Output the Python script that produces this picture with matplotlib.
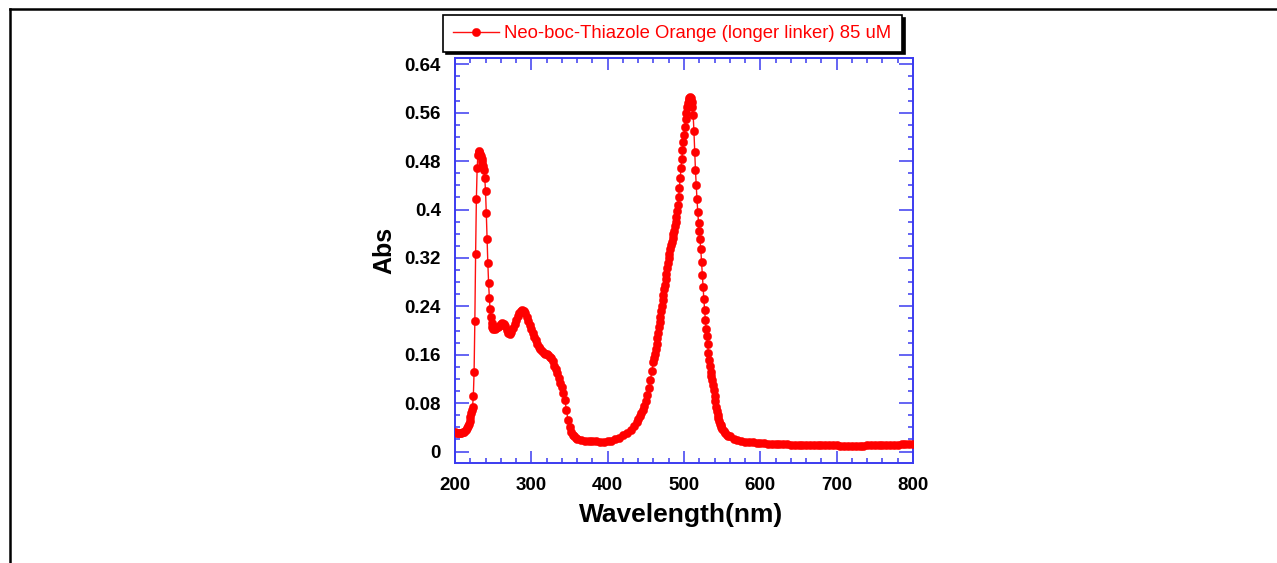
import matplotlib
matplotlib.use("Agg")
import matplotlib.pyplot as plt
from matplotlib.lines import Line2D
from matplotlib.ticker import MultipleLocator, FuncFormatter
import numpy as np

# ---------------- data ----------------
wl_uv = [200, 202, 204, 206, 208, 210, 212, 214, 216, 217, 218, 219, 220, 221, 222, 223,
         224, 225, 226, 227, 228, 229, 230, 231, 232, 233, 234, 235, 236, 237, 238, 239,
         240, 241, 242, 243, 244, 245, 246, 247, 248, 249, 250]
abs_uv = [0.033, 0.031, 0.030, 0.030, 0.031, 0.032, 0.033, 0.035, 0.039, 0.042, 0.046, 0.051,
          0.057, 0.063, 0.069, 0.074, 0.091, 0.131, 0.216, 0.326, 0.417, 0.468, 0.490, 0.496,
          0.495, 0.492, 0.488, 0.484, 0.479, 0.472, 0.465, 0.452, 0.430, 0.394, 0.352, 0.312,
          0.279, 0.254, 0.235, 0.222, 0.212, 0.206, 0.203]

wl_mid = [252, 254, 256, 258, 260, 262, 264, 266, 268, 270, 272, 274, 276, 278, 280, 282,
          284, 286, 288, 290, 292, 294, 296, 298, 300, 302, 304, 306, 308, 310, 312, 314,
          316, 318, 320, 322, 324, 326, 328, 330, 332, 334, 336, 338, 340, 342, 344, 346,
          348, 350, 352, 354, 356, 358, 360]
abs_mid = [0.203, 0.204, 0.206, 0.208, 0.211, 0.212, 0.211, 0.207, 0.201, 0.196, 0.195, 0.198,
           0.204, 0.211, 0.218, 0.224, 0.229, 0.232, 0.234, 0.233, 0.229, 0.223, 0.216, 0.209,
           0.202, 0.196, 0.190, 0.184, 0.178, 0.173, 0.169, 0.166, 0.163, 0.162, 0.161, 0.159,
           0.157, 0.154, 0.149, 0.142, 0.136, 0.129, 0.121, 0.114, 0.106, 0.096, 0.085, 0.068,
           0.052, 0.041, 0.033, 0.028, 0.025, 0.023, 0.021]

wl_valley = [365, 370, 375, 380, 385, 390, 395, 400, 405, 410, 415, 420, 425, 430, 434, 438,
             440, 442, 444, 446, 448, 450, 452, 454, 456, 458]
abs_valley = [0.019, 0.018, 0.018, 0.017, 0.017, 0.0165, 0.0165, 0.017, 0.018, 0.020, 0.023,
              0.027, 0.031, 0.036, 0.042, 0.049, 0.053, 0.058, 0.063, 0.069, 0.076, 0.084,
              0.094, 0.105, 0.118, 0.133]

wl_vis = list(range(460, 551))
abs_vis = [0.148, 0.155, 0.162, 0.170, 0.178, 0.187, 0.196, 0.205, 0.214, 0.223,
           0.232, 0.241, 0.250, 0.259, 0.268, 0.276, 0.285, 0.294, 0.303, 0.312,
           0.320, 0.327, 0.334, 0.341, 0.347, 0.353, 0.359, 0.365, 0.372, 0.380,
           0.388, 0.397, 0.408, 0.421, 0.436, 0.452, 0.468, 0.483, 0.498, 0.511,
           0.523, 0.536, 0.549, 0.560, 0.569, 0.576, 0.581, 0.585, 0.586, 0.584,
           0.578, 0.569, 0.556, 0.530, 0.495, 0.465, 0.440, 0.417, 0.396, 0.378,
           0.364, 0.351, 0.334, 0.313, 0.292, 0.272, 0.252, 0.234, 0.217, 0.203,
           0.191, 0.177, 0.163, 0.151, 0.141, 0.132, 0.125, 0.118, 0.110, 0.101,
           0.092, 0.083, 0.074, 0.067, 0.060, 0.055, 0.050, 0.046, 0.043, 0.040,
           0.037]

wl_tail = [552, 554, 556, 558, 560, 565, 570, 575, 580, 585, 590, 595, 600, 605, 610, 615,
           620, 625, 630, 635, 640, 645, 650, 655, 660, 665, 670, 675, 680, 685, 690, 695,
           700, 705, 710, 715, 720, 725, 730, 735, 740, 745, 750, 755, 760, 765, 770, 775,
           780, 785, 790, 795, 800]
abs_tail = [0.034, 0.031, 0.028, 0.026, 0.025, 0.021, 0.019, 0.0175, 0.0165, 0.0158, 0.0150,
            0.0145, 0.0140, 0.0135, 0.0130, 0.0128, 0.0125, 0.0122, 0.0120, 0.0118, 0.0115,
            0.0113, 0.0111, 0.0110, 0.0109, 0.0107, 0.0106, 0.0105, 0.0104, 0.0103, 0.0102,
            0.0101, 0.0100, 0.0099, 0.0098, 0.0097, 0.0096, 0.0097, 0.0098, 0.0099, 0.0101,
            0.0103, 0.0105, 0.0107, 0.0109, 0.0111, 0.0112, 0.0114, 0.0115, 0.0116, 0.0117,
            0.0118, 0.0118]

series_label = "Neo-boc-Thiazole Orange (longer linker) 85 uM"
x_label = "Wavelength(nm)"
y_label = "Abs"
x_ticks = [200, 300, 400, 500, 600, 700, 800]
y_ticks = [0, 0.08, 0.16, 0.24, 0.32, 0.4, 0.48, 0.56, 0.64]

wavelength = wl_uv + wl_mid + wl_valley + wl_vis + wl_tail
absorbance = abs_uv + abs_mid + abs_valley + abs_vis + abs_tail

# ---------------- figure ----------------
plt.rcParams['font.family'] = ['Liberation Sans', 'DejaVu Sans']

W, H = 1277, 563
fig = plt.figure(figsize=(W / 100, H / 100), dpi=100)
fig.patch.set_facecolor('white')

ax_l, ax_r, ax_t, ax_b = 455, 913, 58, 463
ax = fig.add_axes([ax_l / W, 1 - ax_b / H, (ax_r - ax_l) / W, (ax_b - ax_t) / H])

ax.plot(wavelength, absorbance, color='#ff1010', lw=1.0, marker='o', markersize=6.0,
        markerfacecolor='#ff0000', markeredgecolor='#ff0000', markeredgewidth=0.3,
        label=series_label, zorder=3)

ax.set_xlim(200, 800)
ax.set_ylim(-0.019, 0.6505)

axis_blue = '#3b3bf0'
for sp in ax.spines.values():
    sp.set_color(axis_blue)
    sp.set_linewidth(1.4)

ax.set_xticks(x_ticks)
ax.set_yticks(y_ticks)
ax.xaxis.set_minor_locator(MultipleLocator(20))
ax.yaxis.set_minor_locator(MultipleLocator(0.02))
ax.yaxis.set_major_formatter(FuncFormatter(lambda v, p: '{:g}'.format(round(v, 4))))

ax.tick_params(axis='both', which='both', direction='in', top=True, right=True,
               color=axis_blue, width=1.1)
ax.tick_params(axis='x', which='major', length=8.5, pad=10)
ax.tick_params(axis='y', which='major', length=10, pad=10)
ax.tick_params(axis='both', which='minor', length=3.8)
for lab in ax.get_xticklabels() + ax.get_yticklabels():
    lab.set_fontsize(13.5)
    lab.set_fontweight('bold')
    lab.set_color('black')

ax.set_xlabel(x_label, fontsize=19, fontweight='bold')
ax.set_ylabel(y_label, fontsize=18, fontweight='bold')
ax.xaxis.set_label_coords((681 - ax_l) / (ax_r - ax_l), (ax_b - 503) / (ax_b - ax_t))
ax.yaxis.set_label_coords((396 - ax_l) / (ax_r - ax_l), (ax_b - 250) / (ax_b - ax_t))

# legend
leg_l, leg_r, leg_t, leg_b = 443, 902, 16, 51
leg = ax.legend(loc='center', bbox_to_anchor=(leg_l / W, 1 - leg_b / H,
                                              (leg_r - leg_l) / W, (leg_b - leg_t) / H),
                bbox_transform=fig.transFigure, mode='expand', fontsize=13.3,
                frameon=True, fancybox=False, shadow={'color': 'black', 'alpha': 1.0},
                borderpad=0.52, handlelength=2.5, handletextpad=0.3, borderaxespad=0,
                numpoints=1)
leg.get_frame().set_edgecolor('black')
leg.get_frame().set_linewidth(1.2)
leg.get_frame().set_facecolor('white')
for t in leg.get_texts():
    t.set_color('#ff0000')

# outer page frame (left and top edges)
fig.add_artist(Line2D([10 / W, 10 / W], [0, 1 - 9 / H], transform=fig.transFigure,
                      color='black', lw=1.8, solid_capstyle='projecting'))
fig.add_artist(Line2D([10 / W, 1], [1 - 9 / H, 1 - 9 / H], transform=fig.transFigure,
                      color='black', lw=1.8, solid_capstyle='projecting'))

fig.savefig('out.png', dpi=100, facecolor='white')
